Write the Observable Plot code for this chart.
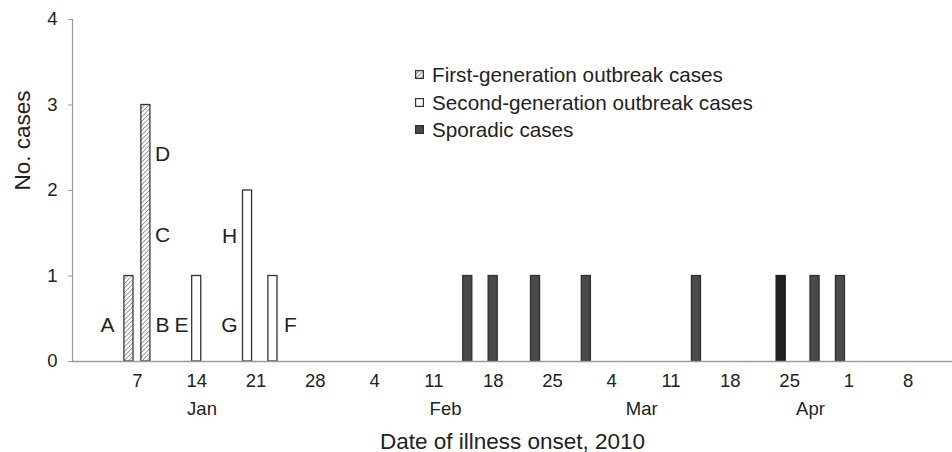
<!DOCTYPE html>
<html>
<head>
<meta charset="utf-8">
<script src="https://cdn.jsdelivr.net/npm/d3@7"></script>
<script src="https://cdn.jsdelivr.net/npm/@observablehq/plot@0.6"></script>
<style>
  html, body { margin: 0; padding: 0; background: #fff; }
  #wrap { position: relative; width: 952px; height: 452px; font-family: "Liberation Sans", Arial, sans-serif; color: #222; }
  #legend { position: absolute; left: 415px; top: 61px; font-size: 20.7px; line-height: 27.5px; color: #222; }
  #legend .row { display: flex; align-items: center; white-space: nowrap; }
  #legend svg { margin-right: 8px; }
</style>
</head>
<body>
<div id="wrap"><div id="legend"></div></div>
<script>
// ---- data ----
const firstGenDates = ["2010-01-06", "2010-01-08"];
const firstGenCounts = [1, 3];
const secondGenDates = ["2010-01-14", "2010-01-20", "2010-01-23"];
const secondGenCounts = [1, 2, 1];
const sporadicDates = ["2010-02-15", "2010-02-18", "2010-02-23", "2010-03-01", "2010-03-14", "2010-03-24", "2010-03-28", "2010-03-31"];
const sporadicCounts = [1, 1, 1, 1, 1, 1, 1, 1];
const sporadicDark = [false, false, false, false, false, true, false, false];

const caseLetters = ["A", "B", "C", "D", "E", "G", "H", "F"];
const letterDates = ["2010-01-03T23:00", "2010-01-10T11:00", "2010-01-10T11:00", "2010-01-10T11:00", "2010-01-12T17:00", "2010-01-18T09:00", "2010-01-18T09:00", "2010-01-25T13:30"];
const letterLevels = [0.42, 0.42, 1.48, 2.42, 0.42, 0.42, 1.47, 0.42];

const dayTicks = ["2010-01-07", "2010-01-14", "2010-01-21", "2010-01-28", "2010-02-04", "2010-02-11", "2010-02-18", "2010-02-25", "2010-03-04", "2010-03-11", "2010-03-18", "2010-03-25", "2010-04-01", "2010-04-08"];
const monthLabels = ["Jan", "Feb", "Mar", "Apr"];
const monthLabelDates = ["2010-01-15T03:00", "2010-02-12T21:00", "2010-03-08T01:00", "2010-03-27T23:00"];
const yTicks = [0, 1, 2, 3, 4];

const xLabel = "Date of illness onset, 2010";
const yLabel = "No. cases";
const seriesNames = ["First-generation outbreak cases", "Second-generation outbreak cases", "Sporadic cases"];

// ---- build tables ----
const utc = (s) => new Date(s + (s.length === 10 ? "T00:00Z" : "Z"));
const noon = (s) => new Date(utc(s).getTime() + 12 * 3600e3);
const first = firstGenDates.map((d, i) => ({date: utc(d), count: firstGenCounts[i]}));
const second = secondGenDates.map((d, i) => ({date: utc(d), count: secondGenCounts[i]}));
const sporadic = sporadicDates.map((d, i) => ({date: utc(d), count: sporadicCounts[i], dark: sporadicDark[i]}));
const letters = caseLetters.map((l, i) => ({letter: l, date: utc(letterDates[i]), y: letterLevels[i]}));
const months = monthLabels.map((m, i) => ({m, date: utc(monthLabelDates[i])}));

const hatchDefs = () => {
  const defs = d3.create("svg:defs");
  const p = defs.append("pattern").attr("id", "hatch").attr("patternUnits", "userSpaceOnUse")
    .attr("width", 3.2).attr("height", 3.2).attr("patternTransform", "rotate(45)");
  p.append("rect").attr("width", 3.2).attr("height", 3.2).attr("fill", "#fff");
  p.append("line").attr("x1", 0).attr("y1", 0).attr("x2", 0).attr("y2", 3.2)
    .attr("stroke", "#555").attr("stroke-width", 1.1);
  return defs.node();
};

const barOpts = {x: "date", y: "count", interval: "day", insetLeft: -0.3, insetRight: -0.3, strokeWidth: 1.3};

const chart = Plot.plot({
  width: 952,
  height: 452,
  marginLeft: 72,
  marginRight: 0,
  marginTop: 19,
  marginBottom: 91,
  style: {fontFamily: "Liberation Sans, Arial, sans-serif", fontSize: "18.5px", color: "#222", background: "#fff", overflow: "visible"},
  x: {type: "utc", domain: [utc("2009-12-31"), utc("2010-04-14")], range: [73.4, 954.3]},
  y: {domain: [0, 4]},
  marks: [
    hatchDefs,
    Plot.rectY(first, {...barOpts, fill: "url(#hatch)", stroke: "#3a3a3a"}),
    Plot.rectY(second, {...barOpts, fill: "#fff", stroke: "#333"}),
    Plot.rectY(sporadic, {...barOpts, fill: (d) => d.dark ? "#231f20" : "#4a4a4a", stroke: (d) => d.dark ? "#1a1a1a" : "#2e2e2e"}),
    Plot.ruleY([0], {stroke: "#9a9a9a", strokeWidth: 1.6}),
    Plot.frame({anchor: "left", stroke: "#9a9a9a", strokeWidth: 1.2}),
    Plot.axisY({ticks: yTicks, tickSize: 4, tickPadding: 11, tickFormat: (d) => String(d), label: null, stroke: "#9a9a9a", fontSize: 18.5}),
    Plot.axisX({ticks: dayTicks.map(noon), tickSize: 0, tickPadding: 12, tickFormat: (d) => String(d.getUTCDate()), label: null, fontSize: 18.5}),
    Plot.text(months, {x: "date", text: "m", frameAnchor: "bottom", dy: 48, lineAnchor: "middle", fontSize: 18.5}),
    Plot.text([xLabel], {text: (d) => d, frameAnchor: "bottom", dy: 80, lineAnchor: "middle", fontSize: 22.5}),
    Plot.text([yLabel], {text: (d) => d, frameAnchor: "left", dx: -50, rotate: -90, lineAnchor: "middle", fontSize: 22.5}),
    Plot.text(letters, {x: "date", y: "y", text: "letter", fontSize: 21, lineAnchor: "middle"})
  ]
});

const wrap = document.getElementById("wrap");
wrap.insertBefore(chart, wrap.firstChild);

// ---- legend ----
const legend = d3.select("#legend");
const swatches = [
  {fill: "url(#lhatch)", stroke: "#333"},
  {fill: "#fff", stroke: "#333"},
  {fill: "#4a4a4a", stroke: "#2e2e2e"}
];
seriesNames.forEach((name, i) => {
  const row = legend.append("div").attr("class", "row");
  const s = row.append("svg").attr("width", 9).attr("height", 9);
  if (i === 0) {
    const p = s.append("defs").append("pattern").attr("id", "lhatch").attr("patternUnits", "userSpaceOnUse")
      .attr("width", 3).attr("height", 3).attr("patternTransform", "rotate(45)");
    p.append("rect").attr("width", 3).attr("height", 3).attr("fill", "#fff");
    p.append("line").attr("x1", 0).attr("y1", 0).attr("x2", 0).attr("y2", 3).attr("stroke", "#444").attr("stroke-width", 1.2);
  }
  s.append("rect").attr("x", 0.6).attr("y", 0.6).attr("width", 7.8).attr("height", 7.8)
    .attr("fill", swatches[i].fill).attr("stroke", swatches[i].stroke).attr("stroke-width", 1.2);
  row.append("span").text(name);
});
</script>
</body>
</html>
